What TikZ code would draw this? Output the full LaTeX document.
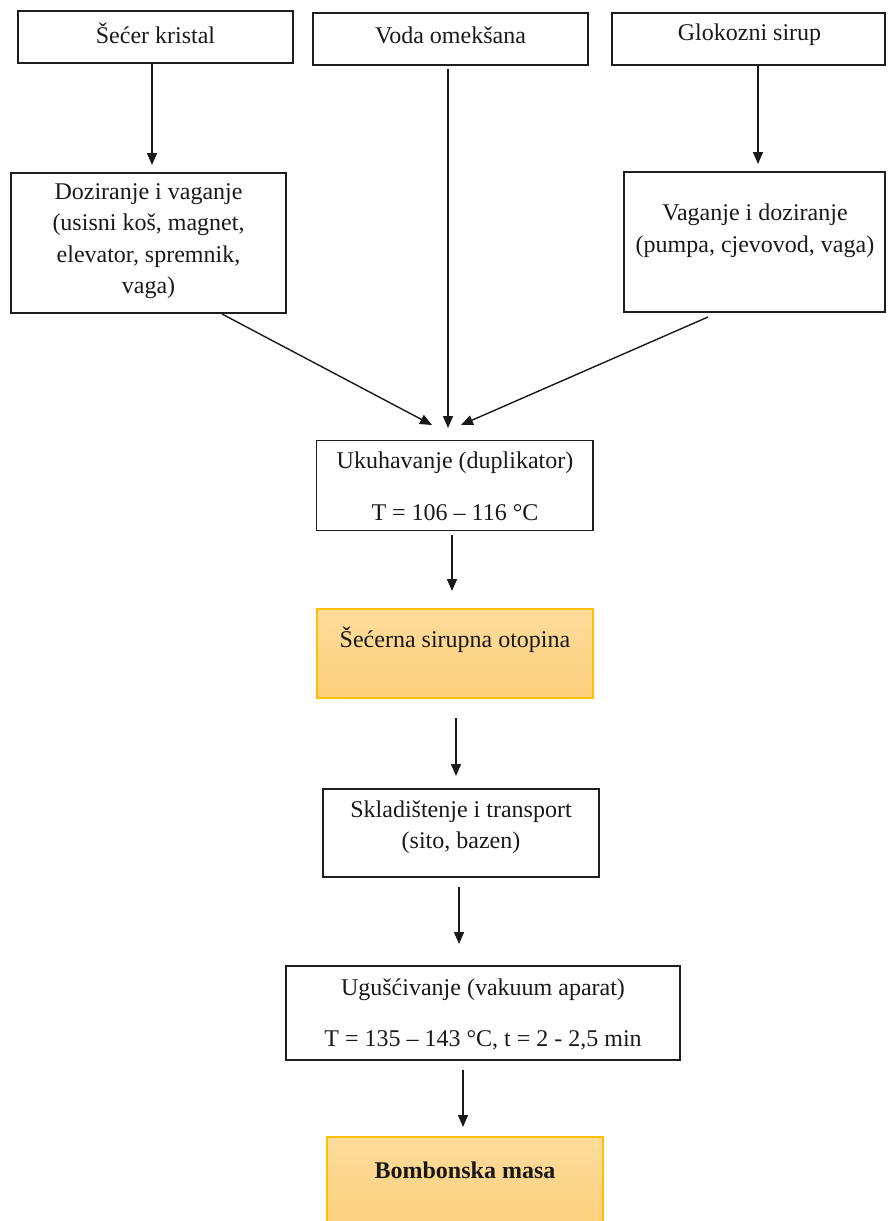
\documentclass[tikz,border=0pt]{standalone}
\usepackage{fontspec}
\setmainfont{Liberation Serif}
\usetikzlibrary{arrows.meta}
\definecolor{boxline}{RGB}{30,30,30}
\definecolor{goldline}{RGB}{255,192,0}
\definecolor{orangetop}{RGB}{253,220,155}
\definecolor{orangebot}{RGB}{252,208,125}
\tikzset{
  box/.style={draw=boxline, line width=1.5pt, inner sep=0pt},
  obox/.style={draw=goldline, line width=1.5pt, inner sep=0pt, top color=orangetop, bottom color=orangebot},
  txt/.style={font=\fontsize{24}{31.5}\selectfont, align=center, inner sep=0pt, text=black!90},
  arr/.style={draw=black!90, line width=1.4pt, -{Triangle[length=12pt,width=10pt]}}
}
\begin{document}
\begin{tikzpicture}[x=1pt,y=-1pt]
\useasboundingbox (0,0) rectangle (887,1221);
\clip (0,0) rectangle (887,1221);
% boxes
\node[box, minimum width=275, minimum height=52] (b1) at (155.5,37) {};
\node[box, minimum width=275, minimum height=52] (b2) at (450.5,39) {};
\node[box, minimum width=273, minimum height=52] (b3) at (748.5,39) {};
\node[box, minimum width=275, minimum height=140] (b4) at (148.5,243) {};
\node[box, minimum width=261, minimum height=140] (b5) at (754.5,242) {};
\node[box, minimum width=276.5, minimum height=90] (b6) at (454.75,485.5) {};
\node[obox, minimum width=276, minimum height=89] (b7) at (455,653.5) {};
\node[box, minimum width=276, minimum height=88] (b8) at (461,833) {};
\node[box, minimum width=394, minimum height=94] (b9) at (483,1013) {};
\node[obox, minimum width=276, minimum height=90] (b10) at (465,1182) {};
% texts
\node[txt] (t1) at (155.5,33) {Šećer kristal};
\node[txt] (t2) at (450.5,35) {Voda omekšana};
\node[txt] (t3) at (749.5,35) {Glokozni sirup};
\node[txt] (t4) at (148.5,241) {Doziranje i vaganje\\(usisni koš, magnet,\\elevator, spremnik,\\vaga)};
\node[txt] (t5) at (755,231) {Vaganje i doziranje\\(pumpa, cjevovod, vaga)};
\node[txt] (t6a) at (455,463) {Ukuhavanje (duplikator)};
\node[txt] (t6b) at (455,513) {T = 106 – 116 °C};
\node[txt] (t7) at (455,640) {Šećerna sirupna otopina};
\node[txt] (t8) at (461,827) {Skladištenje i transport\\(sito, bazen)};
\node[txt] (t9a) at (483,990) {Ugušćivanje (vakuum aparat)};
\node[txt] (t9b) at (483,1040) {T = 135 – 143 °C, t = 2 - 2,5 min};
\node[txt, font=\fontsize{24}{31.5}\selectfont\bfseries] (t10) at (465,1170) {Bombonska masa};
% arrow end points
\coordinate (a1e) at (152,165);
\coordinate (a2s) at (448,69);
\coordinate (a2e) at (448,428);
\coordinate (a3e) at (758,164);
\coordinate (a4s) at (222,314);
\coordinate (a4e) at (432,425);
\coordinate (a5s) at (708,317);
\coordinate (a5e) at (461,425);
\coordinate (a6s) at (452,535);
\coordinate (a6e) at (452,591);
\coordinate (a7s) at (456,718);
\coordinate (a7e) at (456,776);
\coordinate (a8s) at (459,887);
\coordinate (a8e) at (459,944);
\coordinate (a9s) at (463,1070);
\coordinate (a9e) at (463,1127);
% connectors
\draw[arr] (b1.south -| a1e) -- (a1e);
\draw[arr] (a2s) -- (a2e);
\draw[arr] (b3.south -| a3e) -- (a3e);
\draw[arr] (a4s) -- (a4e);
\draw[arr] (a5s) -- (a5e);
\draw[arr] (a6s) -- (a6e);
\draw[arr] (a7s) -- (a7e);
\draw[arr] (a8s) -- (a8e);
\draw[arr] (a9s) -- (a9e);
\end{tikzpicture}
\end{document}
